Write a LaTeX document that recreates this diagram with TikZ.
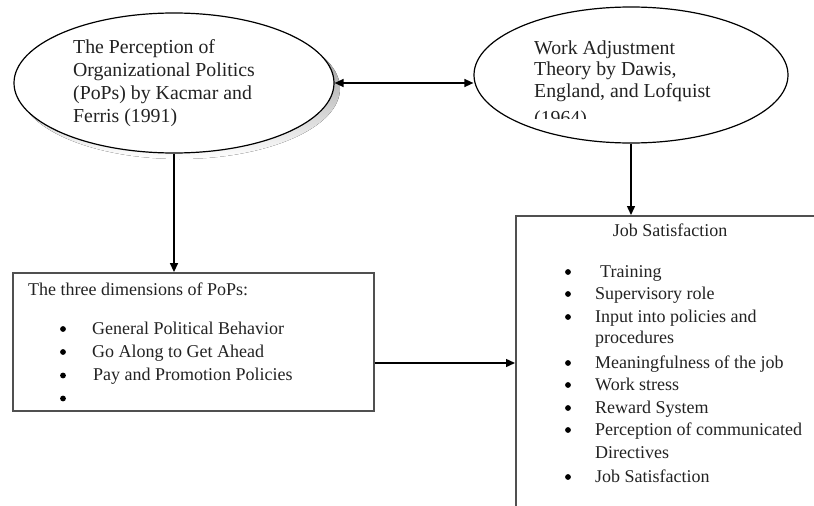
\documentclass[tikz,border=0pt]{standalone}
\usepackage{fontspec}
\setmainfont{Liberation Serif}
\usetikzlibrary{shapes.geometric,arrows.meta}
\definecolor{ink}{HTML}{222222}
\definecolor{boxline}{HTML}{505050}
\definecolor{shade}{HTML}{7A7A7A}
\begin{document}
\begin{tikzpicture}[x=1pt,y=-1pt,
  oval/.style={ellipse, draw=black, line width=1.2pt, fill=white, inner sep=0pt},
  frame/.style={rectangle, draw=boxline, line width=1.8pt, inner sep=0pt},
  bigtxt/.style={anchor=base west, inner sep=0pt, text=ink, font=\fontsize{19.8}{22}\selectfont},
  txt/.style={anchor=base west, inner sep=0pt, text=ink, font=\fontsize{18}{21}\selectfont},
  dot/.style={circle, fill=black, draw=none, inner sep=0pt, minimum size=5.8pt},
  link/.style={draw=black, line width=1.4pt, -{Triangle[length=9pt,width=8pt]}},
  dlink/.style={draw=black, line width=1.4pt, {Triangle[length=9pt,width=8pt]}-{Triangle[length=9pt,width=8pt]}},
]
\useasboundingbox (0,0) rectangle (814,506);
\clip (0,0) rectangle (814,506);

% left ellipse with shadow
\fill[shade] (179.5,88.5) ellipse [x radius=160.5pt, y radius=70.5pt];
\node[oval, minimum width=320pt, minimum height=140pt] (pop) at (174,83) {};
\node[bigtxt] (p1) at (73,53) {The Perception of};
\node[bigtxt] (p2) at (73,76) {Organizational Politics};
\node[bigtxt] (p3) at (73,99) {(PoPs) by Kacmar and};
\node[bigtxt] (p4) at (73,122) {Ferris (1991)};

% right ellipse
\node[oval, minimum width=314pt, minimum height=136pt] (wat) at (631,75) {};
\node[bigtxt] (w1) at (534,54) {Work Adjustment};
\node[bigtxt] (w2) at (534,75.5) {Theory by Dawis,};
\node[bigtxt] (w3) at (534,97) {England, and Lofquist};
\begin{scope}
  \clip (470,0) rectangle (800,118.5);
  \node[bigtxt] (w4) at (534,124) {(1964)};
\end{scope}

% left box
\node[frame, minimum width=361pt, minimum height=138pt] (dims) at (193.5,342) {};
\node[txt] (d0) at (28,295) {The three dimensions of PoPs:};
\node[dot] (db1) at (63,329) {};
\node[txt] (d1) at (92,334) {General Political Behavior};
\node[dot] (db2) at (63,352) {};
\node[txt] (d2) at (92,357) {Go Along to Get Ahead};
\node[dot] (db3) at (63,375.5) {};
\node[txt] (d3) at (93,380.5) {Pay and Promotion Policies};
\node[dot] (db4) at (63,398.5) {};

% right box
\node[frame, minimum width=330pt, minimum height=330pt, anchor=north west] (js) at (515,215) {};
\node[txt, anchor=base] (jt) at (670,236) {Job Satisfaction};
\node[dot] (jb1) at (568,272) {};
\node[txt] (j1) at (600,277) {Training};
\node[dot] (jb2) at (568,294) {};
\node[txt] (j2) at (595,299) {Supervisory role};
\node[dot] (jb3) at (568,317) {};
\node[txt] (j3) at (595,322) {Input into policies and};
\node[txt] (j3b) at (595,343) {procedures};
\node[dot] (jb4) at (568,363) {};
\node[txt] (j4) at (595,368) {Meaningfulness of the job};
\node[dot] (jb5) at (568,385) {};
\node[txt] (j5) at (595,390) {Work stress};
\node[dot] (jb6) at (568,408) {};
\node[txt] (j6) at (595,413) {Reward System};
\node[dot] (jb7) at (568,430) {};
\node[txt] (j7) at (595,435) {Perception of communicated};
\node[txt] (j7b) at (595,458) {Directives};
\node[dot] (jb8) at (568,477) {};
\node[txt] (j8) at (595,482) {Job Satisfaction};

% connectors
\draw[dlink] (pop.east) -- (pop.east -| wat.west);
\draw[link] (pop.south) -- (pop.south |- dims.north);
\draw[link] (wat.south) -- (wat.south |- js.north);
\draw[link] ([yshift=-21pt]dims.east) -- ([yshift=-21pt]dims.east -| js.west);
\end{tikzpicture}
\end{document}
